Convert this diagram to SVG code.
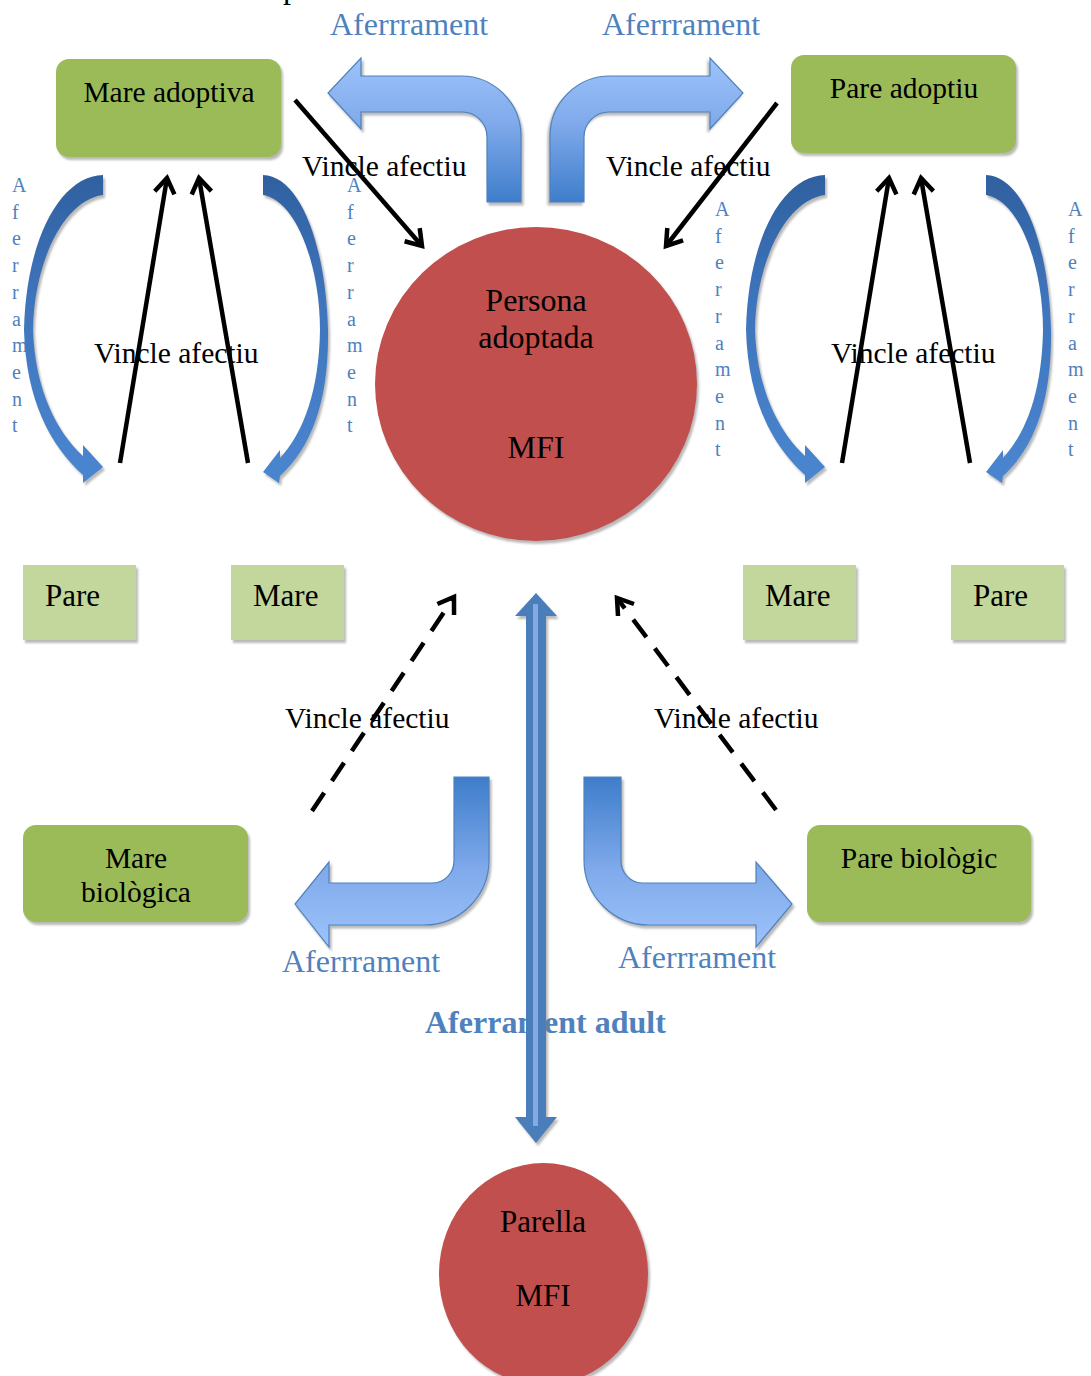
<svg xmlns="http://www.w3.org/2000/svg" width="1091" height="1376" viewBox="0 0 1091 1376">
<defs>
<style>
.t{font-family:"Liberation Serif","Times New Roman",serif;fill:#000}
.lbl{font-family:"Liberation Serif","Times New Roman",serif;font-size:29.5px;fill:#000}
.bl{font-family:"Liberation Serif","Times New Roman",serif;font-size:32px;fill:#4F81BD}
.vt{font-family:"Liberation Serif","Times New Roman",serif;font-size:20px;fill:#4F81BD}
.box{fill:#9BBB59;filter:url(#sh)}
.sbox{fill:#C3D69B;filter:url(#sh)}
.circ{fill:#C0504D;filter:url(#sh)}
.bent{stroke:#4F81BD;stroke-width:1.2;filter:url(#sh)}
.curve{fill:url(#gCurve);filter:url(#sh)}
.solid{stroke:#000;stroke-width:4.5;fill:none;marker-end:url(#chev)}
.dash{stroke:#000;stroke-width:4.5;fill:none;stroke-dasharray:22 14;marker-end:url(#chev)}
</style>
<filter id="sh" x="-10%" y="-10%" width="130%" height="130%">
<feDropShadow dx="2" dy="3" stdDeviation="1" flood-color="#808080" flood-opacity="0.55"/>
</filter>
<linearGradient id="gUp" x1="0" y1="0" x2="0" y2="1">
<stop offset="0" stop-color="#9DC3FA"/>
<stop offset="0.45" stop-color="#80AAEB"/>
<stop offset="1" stop-color="#3E7DCB"/>
</linearGradient>
<linearGradient id="gDown" x1="0" y1="0" x2="0" y2="1">
<stop offset="0" stop-color="#3E7DCB"/>
<stop offset="0.55" stop-color="#80AAEB"/>
<stop offset="1" stop-color="#9DC3FA"/>
</linearGradient>
<linearGradient id="gCurve" x1="0" y1="0" x2="0" y2="1">
<stop offset="0" stop-color="#2F609F"/>
<stop offset="0.4" stop-color="#3E74BC"/>
<stop offset="1" stop-color="#4A86D0"/>
</linearGradient>
<marker id="chev" viewBox="0 0 24 24" refX="20" refY="12" markerWidth="24" markerHeight="24" markerUnits="userSpaceOnUse" orient="auto" overflow="visible">
<path d="M 5 2 L 20 12 L 5 22" fill="none" stroke="#000" stroke-width="4.5" stroke-linejoin="miter"/>
</marker>
</defs>
<rect width="1091" height="1376" fill="#fff"/>

<g id="labels">
<text class="t" x="283" y="-2" font-size="32">p</text>
<text class="bl" x="330" y="35">Aferrrament</text>
<text class="bl" x="602" y="35">Aferrrament</text>
<text class="bl" x="282" y="972">Aferrrament</text>
<text class="bl" x="618" y="968">Aferrrament</text>
<text class="bl" x="425" y="1033" font-weight="bold">Aferrament adult</text>
<text class="lbl" x="302" y="176">Vincle afectiu</text>
<text class="lbl" x="606" y="176">Vincle afectiu</text>
<text class="lbl" x="94" y="363">Vincle afectiu</text>
<text class="lbl" x="831" y="363">Vincle afectiu</text>
<text class="lbl" x="285" y="728">Vincle afectiu</text>
<text class="lbl" x="654" y="728">Vincle afectiu</text>
<text class="vt" x="12" y="192"><tspan x="12">A</tspan><tspan x="12" dy="26.7">f</tspan><tspan x="12" dy="26.7">e</tspan><tspan x="12" dy="26.7">r</tspan><tspan x="12" dy="26.7">r</tspan><tspan x="12" dy="26.7">a</tspan><tspan x="12" dy="26.7">m</tspan><tspan x="12" dy="26.7">e</tspan><tspan x="12" dy="26.7">n</tspan><tspan x="12" dy="26.7">t</tspan></text>
<text class="vt" x="347" y="192"><tspan x="347">A</tspan><tspan x="347" dy="26.7">f</tspan><tspan x="347" dy="26.7">e</tspan><tspan x="347" dy="26.7">r</tspan><tspan x="347" dy="26.7">r</tspan><tspan x="347" dy="26.7">a</tspan><tspan x="347" dy="26.7">m</tspan><tspan x="347" dy="26.7">e</tspan><tspan x="347" dy="26.7">n</tspan><tspan x="347" dy="26.7">t</tspan></text>
<text class="vt" x="715" y="216"><tspan x="715">A</tspan><tspan x="715" dy="26.7">f</tspan><tspan x="715" dy="26.7">e</tspan><tspan x="715" dy="26.7">r</tspan><tspan x="715" dy="26.7">r</tspan><tspan x="715" dy="26.7">a</tspan><tspan x="715" dy="26.7">m</tspan><tspan x="715" dy="26.7">e</tspan><tspan x="715" dy="26.7">n</tspan><tspan x="715" dy="26.7">t</tspan></text>
<text class="vt" x="1068" y="216"><tspan x="1068">A</tspan><tspan x="1068" dy="26.7">f</tspan><tspan x="1068" dy="26.7">e</tspan><tspan x="1068" dy="26.7">r</tspan><tspan x="1068" dy="26.7">r</tspan><tspan x="1068" dy="26.7">a</tspan><tspan x="1068" dy="26.7">m</tspan><tspan x="1068" dy="26.7">e</tspan><tspan x="1068" dy="26.7">n</tspan><tspan x="1068" dy="26.7">t</tspan></text>
</g>

<g id="mare-adoptiva">
<rect class="box" x="56" y="59" width="225" height="98" rx="13"/>
<text class="lbl" x="169" y="102" text-anchor="middle">Mare adoptiva</text>
</g>
<g id="pare-adoptiu">
<rect class="box" x="791" y="55" width="225" height="98" rx="13"/>
<text class="lbl" x="904" y="98" text-anchor="middle">Pare adoptiu</text>
</g>
<g id="persona-adoptada">
<ellipse class="circ" cx="536" cy="384" rx="161" ry="157"/>
<text class="t" font-size="32" x="536" y="311" text-anchor="middle">Persona</text>
<text class="t" font-size="32" x="536" y="348" text-anchor="middle">adoptada</text>
<text class="t" font-size="32" x="536" y="458" text-anchor="middle">MFI</text>
</g>
<g id="pare-left">
<rect class="sbox" x="23" y="565" width="113" height="75"/>
<text class="t" font-size="31" x="45" y="606">Pare</text>
</g>
<g id="mare-left">
<rect class="sbox" x="231" y="565" width="113" height="75"/>
<text class="t" font-size="31" x="253" y="606">Mare</text>
</g>
<g id="mare-right">
<rect class="sbox" x="743" y="565" width="113" height="75"/>
<text class="t" font-size="31" x="765" y="606">Mare</text>
</g>
<g id="pare-right">
<rect class="sbox" x="951" y="565" width="113" height="75"/>
<text class="t" font-size="31" x="973" y="606">Pare</text>
</g>
<g id="mare-biologica">
<rect class="box" x="23" y="825" width="225" height="97" rx="13"/>
<text class="lbl" x="136" y="868" text-anchor="middle">Mare</text>
<text class="lbl" x="136" y="902" text-anchor="middle">biològica</text>
</g>
<g id="pare-biologic">
<rect class="box" x="807" y="825" width="224" height="97" rx="13"/>
<text class="lbl" x="919" y="868" text-anchor="middle">Pare biològic</text>
</g>
<g id="parella">
<ellipse class="circ" cx="543.5" cy="1274" rx="104.5" ry="111"/>
<text class="t" font-size="31" x="543" y="1232" text-anchor="middle">Parella</text>
<text class="t" font-size="31" x="543" y="1306" text-anchor="middle">MFI</text>
</g>

<g id="connectors">
<path class="bent" fill="url(#gUp)" d="M 521 202 L 521 136 A 60 60 0 0 0 461 76 L 361 76 L 361 58 L 328 93 L 361 129 L 361 112 L 462 112 A 25 25 0 0 1 487 137 L 487 202 Z"/>
<path class="bent" fill="url(#gUp)" transform="translate(1071,0) scale(-1,1)" d="M 521 202 L 521 136 A 60 60 0 0 0 461 76 L 361 76 L 361 58 L 328 93 L 361 129 L 361 112 L 462 112 A 25 25 0 0 1 487 137 L 487 202 Z"/>
<path class="bent" fill="url(#gDown)" d="M 454 777 L 489 777 L 489 860 A 65 65 0 0 1 424 925 L 329 925 L 329 947 L 295 904 L 329 862 L 329 883 L 432 883 A 22 22 0 0 0 454 861 Z"/>
<path class="bent" fill="url(#gDown)" d="M 621 777 L 584 777 L 584 860 A 65 65 0 0 0 649 925 L 756 925 L 756 947 L 792 904 L 756 862 L 756 883 L 643 883 A 22 22 0 0 1 621 861 Z"/>
<path class="curve" d="M 103 175 C 60 176, 26 240, 24 330 C 26 400, 50 445, 83 475 L 83 483 L 103 467 L 83 445 L 83 456 C 57 432, 35 390, 33 330 C 34 262, 64 200, 103 195 Z"/>
<path class="curve" d="M 263 175 C 300 176, 326 245, 328 330 C 329 400, 312 447, 280 476 L 279 483 L 263 472 L 280 450 L 280 458 C 304 432, 319 390, 320 330 C 320 265, 296 200, 263 195 Z"/>
<path class="curve" transform="translate(722,0)" d="M 103 175 C 60 176, 26 240, 24 330 C 26 400, 50 445, 83 475 L 83 483 L 103 467 L 83 445 L 83 456 C 57 432, 35 390, 33 330 C 34 262, 64 200, 103 195 Z"/>
<path class="curve" transform="translate(723,0)" d="M 263 175 C 300 176, 326 245, 328 330 C 329 400, 312 447, 280 476 L 279 483 L 263 472 L 280 450 L 280 458 C 304 432, 319 390, 320 330 C 320 265, 296 200, 263 195 Z"/>
<line class="solid" x1="120" y1="463" x2="167" y2="178"/>
<line class="solid" x1="248" y1="463" x2="199" y2="178"/>
<line class="solid" x1="842" y1="463" x2="889" y2="178"/>
<line class="solid" x1="970" y1="463" x2="921" y2="178"/>
<line class="solid" x1="295" y1="100" x2="422" y2="246"/>
<line class="solid" x1="777" y1="103" x2="666" y2="246"/>
<line class="dash" x1="312" y1="811" x2="454" y2="597"/>
<line class="dash" x1="776" y1="810" x2="617" y2="598"/>
<path fill="#4A7EBB" filter="url(#sh)" d="M 536 593 L 557 616 L 546 616 L 546 1117 L 557 1117 L 536 1143 L 515 1117 L 526 1117 L 526 616 L 515 616 Z"/>
<rect x="533" y="604" width="5" height="522" fill="#84AAE6"/>
</g>
</svg>
